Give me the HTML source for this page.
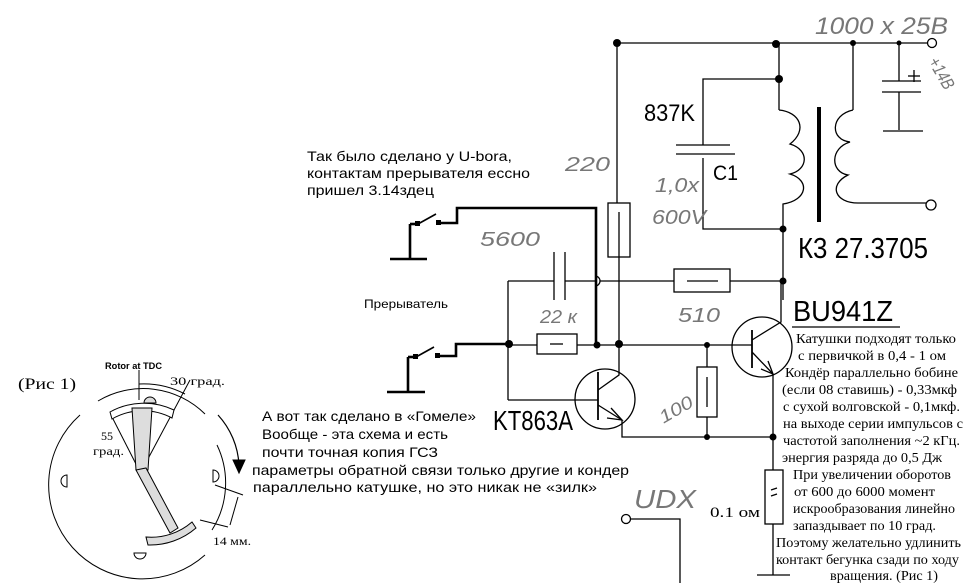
<!DOCTYPE html>
<html><head><meta charset="utf-8"><style>
html,body{margin:0;padding:0;background:#fff;}
svg{display:block;}
.s{font-family:"Liberation Sans","DejaVu Sans",sans-serif;}
.r{font-family:"Liberation Serif","DejaVu Serif",serif;}
.h{font-family:"Liberation Sans",sans-serif;font-style:italic;fill:#777;}
</style></head><body>
<svg width="969" height="584" viewBox="0 0 969 584" xmlns="http://www.w3.org/2000/svg">
<g stroke="#000" stroke-width="1.3" fill="none">
<line x1="617" y1="43" x2="928" y2="43"/>
<circle cx="932" cy="43" r="4.5" fill="#fff"/>
<line x1="617" y1="43" x2="617" y2="203"/>
<rect x="608" y="203" width="22" height="54"/>
<line x1="619" y1="212" x2="619" y2="345"/>
<line x1="779" y1="43" x2="779" y2="110"/>
<path d="M779 110 C800 112,808 130,790 144 C810 150,808 170,790 174 C810 180,808 200,783 204 L783 300"/>
<polyline points="779,79 703,79 703,145"/>
<line x1="676" y1="145" x2="730" y2="145"/>
<line x1="676" y1="154" x2="735" y2="154"/>
<polyline points="703,158 703,229 783,229"/>
<line x1="819" y1="107" x2="819" y2="222" stroke-width="4"/>
<line x1="853" y1="43" x2="853" y2="110"/>
<path d="M853 110 C830 115,830 140,850 142 C830 148,830 172,848 175 C828 185,835 203,858 203 L927 203"/>
<circle cx="931" cy="205" r="5" fill="#fff"/>
<line x1="899" y1="43" x2="899" y2="81"/>
<line x1="882" y1="81" x2="921" y2="81"/>
<line x1="882" y1="92" x2="921" y2="92"/>
<line x1="899" y1="92" x2="899" y2="130"/>
<line x1="883" y1="131" x2="923" y2="131"/>
<line x1="908" y1="76" x2="920" y2="76"/><line x1="914" y1="70" x2="914" y2="82"/>
<line x1="508" y1="281" x2="554" y2="281"/>
<line x1="554" y1="252" x2="554" y2="300"/>
<line x1="565" y1="252" x2="565" y2="300"/>
<line x1="565" y1="281" x2="595" y2="281"/>
<path d="M595 276 A5 5 0 0 1 595 286"/>
<line x1="600" y1="281" x2="674" y2="281"/>
<rect x="674" y="269" width="56" height="23"/>
<line x1="687" y1="281" x2="718" y2="281"/>
<line x1="730" y1="281" x2="783" y2="281"/>
<line x1="508" y1="281" x2="508" y2="400"/>
<line x1="508" y1="400" x2="598" y2="400"/>
<line x1="509" y1="345" x2="537" y2="345"/>
<rect x="537" y="334" width="40" height="20"/>
<line x1="550" y1="344" x2="563" y2="344"/>
<line x1="577" y1="345" x2="752" y2="345"/>
<circle cx="605" cy="399" r="30"/>
<line x1="598" y1="372" x2="598" y2="420" stroke-width="1.8"/>
<polyline points="598,390 619,375 619,345"/>
<line x1="598" y1="405" x2="622" y2="420"/>
<polyline points="611,408 622,420 607,418"/>
<polyline points="622,420 622,437 773,437"/>
<line x1="707" y1="345" x2="707" y2="367"/>
<rect x="697" y="367" width="20" height="50"/>
<line x1="707" y1="377" x2="707" y2="407"/>
<line x1="707" y1="417" x2="707" y2="437"/>
<circle cx="762" cy="347" r="30"/>
<line x1="752" y1="330" x2="752" y2="368" stroke-width="1.8"/>
<polyline points="752,340 781,322 781,280"/>
<line x1="752" y1="352" x2="773" y2="374"/>
<polyline points="761,369 773,374 768,361"/>
<line x1="773" y1="374" x2="773" y2="470"/>
<rect x="765" y="470" width="18" height="54"/>
<path d="M771 490 L777 488 M771 496 L777 494"/>
<line x1="773" y1="524" x2="773" y2="575"/>
<line x1="757" y1="575" x2="790" y2="575"/>
<line x1="792" y1="327" x2="900" y2="327"/>
<circle cx="626" cy="519" r="4.5" fill="#fff"/>
<polyline points="630,519 680,519 680,583"/>
</g>
<g stroke="#000" stroke-width="2.6" fill="none">
<polyline points="439,223 457,223 457,208 596,208 596,345"/>
<line x1="410" y1="224" x2="410" y2="258"/>
<line x1="390" y1="259" x2="427" y2="259"/>
<line x1="418" y1="224" x2="410" y2="224"/>
<line x1="418" y1="224" x2="436" y2="214" stroke-width="1.6"/>
<polyline points="438,356 456,356 456,344 509,344"/>
<line x1="408" y1="357" x2="408" y2="391"/>
<line x1="387" y1="392" x2="425" y2="392"/>
<line x1="408" y1="357" x2="416" y2="357"/>
<line x1="416" y1="357" x2="434" y2="347" stroke-width="1.6"/>
</g>
<g fill="#000">
<rect x="415" y="221" width="5" height="5"/><rect x="436" y="220" width="5" height="5"/>
<rect x="413" y="354" width="5" height="5"/><rect x="435" y="353" width="5" height="5"/>
<circle cx="617" cy="43" r="4"/><circle cx="776" cy="44" r="4"/><circle cx="853" cy="43" r="3"/><circle cx="899" cy="43" r="2.5"/>
<circle cx="779" cy="79" r="4"/><circle cx="783" cy="229" r="3.5"/><circle cx="783" cy="281" r="3.5"/>
<circle cx="509" cy="344" r="4"/><circle cx="597" cy="345" r="3.5"/><circle cx="619" cy="344" r="4"/><circle cx="707" cy="345" r="3"/>
<circle cx="707" cy="437" r="3"/><circle cx="773" cy="437" r="3.5"/>
</g>
<text class="s" x="644" y="121" font-size="24" textLength="51" lengthAdjust="spacingAndGlyphs">837K</text>
<text class="s" x="713" y="180" font-size="21" textLength="25" lengthAdjust="spacingAndGlyphs">C1</text>
<text class="s" x="798" y="258" font-size="29" textLength="130" lengthAdjust="spacingAndGlyphs">К3 27.3705</text>
<text class="s" x="793" y="321" font-size="29" textLength="100" lengthAdjust="spacingAndGlyphs">BU941Z</text>
<text class="s" x="493" y="430" font-size="28" textLength="80" lengthAdjust="spacingAndGlyphs">KT863A</text>
<text class="h" x="815" y="34" font-size="24" textLength="133" lengthAdjust="spacingAndGlyphs">1000 x 25В</text>
<text class="h" x="924" y="72" font-size="18" transform="rotate(60 935 70)" textLength="34" lengthAdjust="spacingAndGlyphs">+14В</text>
<text class="h" x="655" y="192" font-size="20" textLength="44" lengthAdjust="spacingAndGlyphs">1,0x</text>
<text class="h" x="652" y="224" font-size="20" textLength="54" lengthAdjust="spacingAndGlyphs">600V</text>
<text class="h" x="565" y="171" font-size="20" textLength="45" lengthAdjust="spacingAndGlyphs">220</text>
<text class="h" x="480" y="246" font-size="20" textLength="60" lengthAdjust="spacingAndGlyphs">5600</text>
<text class="h" x="540" y="323" font-size="18" textLength="37" lengthAdjust="spacingAndGlyphs">22 к</text>
<text class="h" x="678" y="322" font-size="20" textLength="42" lengthAdjust="spacingAndGlyphs">510</text>
<text class="h" x="655" y="418" font-size="18" transform="rotate(-30 670 405)" textLength="36" lengthAdjust="spacingAndGlyphs">100</text>
<text class="h" x="634" y="508" font-size="26" textLength="62" lengthAdjust="spacingAndGlyphs">UDX</text>
<text class="r" x="710" y="517" font-size="15" textLength="50" lengthAdjust="spacingAndGlyphs">0.1 ом</text>
<g class="s" font-size="14" fill="#000">
<text x="307" y="161" textLength="205" lengthAdjust="spacingAndGlyphs">Так было сделано у U-bora,</text>
<text x="307" y="178" textLength="223" lengthAdjust="spacingAndGlyphs">контактам прерывателя ессно</text>
<text x="307" y="195" textLength="127" lengthAdjust="spacingAndGlyphs">пришел 3.14здец</text>
<text x="364" y="308" font-size="12" textLength="84" lengthAdjust="spacingAndGlyphs">Прерыватель</text>
<text x="262" y="421" textLength="214" lengthAdjust="spacingAndGlyphs">А вот так сделано в «Гомеле»</text>
<text x="262" y="439" textLength="186" lengthAdjust="spacingAndGlyphs">Вообще - эта схема и есть</text>
<text x="262" y="457" textLength="176" lengthAdjust="spacingAndGlyphs">почти точная копия ГСЗ</text>
<text x="252" y="475" textLength="377" lengthAdjust="spacingAndGlyphs">параметры обратной связи только другие и кондер</text>
<text x="253" y="492" textLength="344" lengthAdjust="spacingAndGlyphs">параллельно катушке, но это никак не «зилк»</text>
</g>
<g class="r" font-size="14" fill="#000">
<text x="796" y="343" textLength="160" lengthAdjust="spacingAndGlyphs">Катушки подходят только</text>
<text x="798" y="360" textLength="148" lengthAdjust="spacingAndGlyphs">с первичкой в 0,4 - 1 ом</text>
<text x="785" y="377" textLength="173" lengthAdjust="spacingAndGlyphs">Кондёр параллельно бобине</text>
<text x="782" y="394" textLength="175" lengthAdjust="spacingAndGlyphs">(если 08 ставишь) - 0,33мкф</text>
<text x="783" y="411" textLength="177" lengthAdjust="spacingAndGlyphs">с сухой волговской - 0,1мкф.</text>
<text x="783" y="428" textLength="180" lengthAdjust="spacingAndGlyphs">на выходе серии импульсов с</text>
<text x="783" y="445" textLength="177" lengthAdjust="spacingAndGlyphs">частотой заполнения ~2 кГц.</text>
<text x="782" y="462" textLength="160" lengthAdjust="spacingAndGlyphs">энергия разряда до 0,5 Дж</text>
<text x="793" y="479" textLength="158" lengthAdjust="spacingAndGlyphs">При увеличении оборотов</text>
<text x="794" y="496" textLength="141" lengthAdjust="spacingAndGlyphs">от 600 до 6000 момент</text>
<text x="793" y="513" textLength="162" lengthAdjust="spacingAndGlyphs">искрообразования линейно</text>
<text x="793" y="530" textLength="143" lengthAdjust="spacingAndGlyphs">запаздывает по 10 град.</text>
<text x="776" y="547" textLength="185" lengthAdjust="spacingAndGlyphs">Поэтому желательно удлинить</text>
<text x="776" y="564" textLength="183" lengthAdjust="spacingAndGlyphs">контакт бегунка сзади по ходу</text>
<text x="830" y="580" textLength="108" lengthAdjust="spacingAndGlyphs">вращения.  (Рис 1)</text>
</g>
<text class="r" x="18" y="389" font-size="16" textLength="58" lengthAdjust="spacingAndGlyphs">(Рис 1)</text>
<text class="s" x="105" y="369" font-size="9" font-weight="bold" textLength="57" lengthAdjust="spacingAndGlyphs">Rotor at TDC</text>
<text class="r" x="170" y="385" font-size="12" textLength="55" lengthAdjust="spacingAndGlyphs">30 град.</text>
<text class="r" x="101" y="440" font-size="12">55</text>
<text class="r" x="93" y="455" font-size="12" textLength="31" lengthAdjust="spacingAndGlyphs">град.</text>
<text class="r" x="213" y="545" font-size="12" textLength="38" lengthAdjust="spacingAndGlyphs">14 мм.</text>
<g stroke="#000" stroke-width="1" fill="none">
<path d="M98 401 A88 88 0 0 1 205 414"/>
<path d="M80 415 A88 88 0 0 0 205 555"/>
<path d="M217 445 A88 88 0 0 1 212 530"/>
<line x1="139" y1="370" x2="139" y2="400"/>
<path d="M139 384 A90 90 0 0 1 185 394"/>
<line x1="190" y1="380" x2="142" y2="470"/>
<line x1="111" y1="415" x2="138" y2="468"/>
<path d="M110 412 A70 70 0 0 1 174 410 L172 418 A62 62 0 0 0 112 419 Z" fill="#fff"/>
<path d="M132 408 L152 408 L148 470 L136 470 Z" fill="#ddd"/>
<path d="M136 470 L146 468 L178 528 L170 533 Z" fill="#ddd"/>
<path d="M148 545 A70 70 0 0 0 196 528 L192 522 A62 62 0 0 1 146 537 Z" fill="#ddd"/>
<path d="M144 403 A6 6 0 0 1 156 403 Z" fill="#ddd"/>
<path d="M67 475 A6 6 0 0 0 67 487 Z"/>
<path d="M213 470 A6 6 0 0 1 213 482 Z"/>
<path d="M134 553 A6 6 0 0 0 146 553 Z"/>
<path d="M218 415 A80 80 0 0 1 239 465" stroke-width="1.2"/>
<polygon points="233,460 245,460 239,473" fill="#000"/>
<line x1="215" y1="485" x2="243" y2="495"/>
<line x1="200" y1="520" x2="228" y2="527"/>
<line x1="238" y1="497" x2="230" y2="525"/>
</g>
</svg>
</body></html>
